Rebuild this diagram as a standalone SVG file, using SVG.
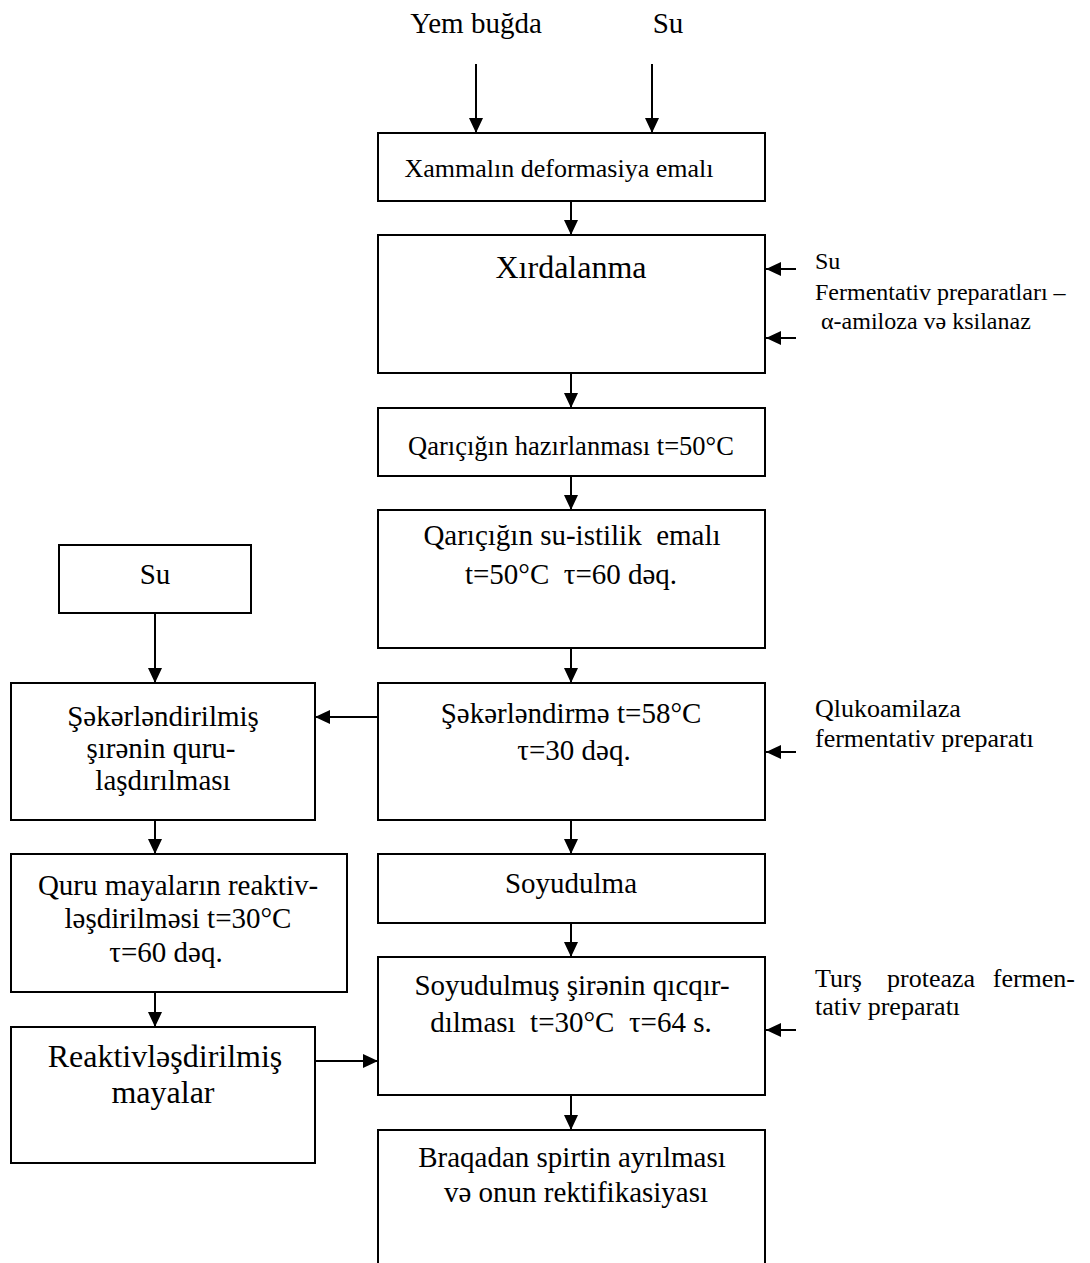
<svg xmlns="http://www.w3.org/2000/svg" width="1090" height="1263" viewBox="0 0 1090 1263">
<style>
  .box { fill: #fff; stroke: #000; stroke-width: 2; }
  .t { font-family: "Liberation Serif", "Times New Roman", serif; fill: #000; font-size: 29px; text-anchor: middle; }
  .lbl { font-family: "Liberation Serif", "Times New Roman", serif; fill: #000; font-size: 24px; }
  .conn { stroke: #000; stroke-width: 2; fill: none; marker-end: url(#ah); }
</style>
<defs>
  <marker id="ah" markerUnits="userSpaceOnUse" markerWidth="16" markerHeight="14" refX="15" refY="7" orient="auto">
    <path d="M0,0 L15,7 L0,14 z" fill="#000"/>
  </marker>
</defs>
<rect width="1090" height="1263" fill="#fff"/>

<g id="inputs">
  <text class="t" x="476" y="33">Yem buğda</text>
  <text class="t" x="668" y="33">Su</text>
</g>

<g id="n1"><rect class="box" x="378" y="133" width="387" height="68"/>
  <text class="t" x="559" y="177" style="font-size:26px">Xammalın deformasiya emalı</text></g>

<g id="n2"><rect class="box" x="378" y="235" width="387" height="138"/>
  <text class="t" x="571" y="278" style="font-size:32px">Xırdalanma</text></g>

<g id="n2-inputs">
  <text class="lbl" x="815" y="269">Su</text>
  <text class="lbl" x="815" y="300">Fermentativ preparatları –</text>
  <text class="lbl" x="815" y="329" xml:space="preserve"> α-amiloza və ksilanaz</text>
</g>

<g id="n3"><rect class="box" x="378" y="408" width="387" height="68"/>
  <text class="t" x="571" y="455" style="font-size:26.5px">Qarıçığın hazırlanması t=50°C</text></g>

<g id="n4"><rect class="box" x="378" y="510" width="387" height="138"/>
  <text class="t" x="572" y="545" xml:space="preserve">Qarıçığın su-istilik  emalı</text>
  <text class="t" x="571" y="584" xml:space="preserve">t=50°C  τ=60 dəq.</text></g>

<g id="n5"><rect class="box" x="378" y="683" width="387" height="137"/>
  <text class="t" x="571" y="723">Şəkərləndirmə t=58°C</text>
  <text class="t" x="574" y="760">τ=30 dəq.</text></g>

<g id="n5-input">
  <text class="lbl" x="815" y="717" style="font-size:26px">Qlukoamilaza</text>
  <text class="lbl" x="815" y="747" style="font-size:26px">fermentativ preparatı</text>
</g>

<g id="n6"><rect class="box" x="378" y="854" width="387" height="69"/>
  <text class="t" x="571" y="893">Soyudulma</text></g>

<g id="n7"><rect class="box" x="378" y="957" width="387" height="138"/>
  <text class="t" x="572" y="995">Soyudulmuş şirənin qıcqır-</text>
  <text class="t" x="571" y="1032" xml:space="preserve">dılması  t=30°C  τ=64 s.</text></g>

<g id="n7-input">
  <text class="lbl" y="987" style="font-size:26px"><tspan x="815">Turş</tspan><tspan x="887">proteaza</tspan><tspan x="1075" text-anchor="end">fermen-</tspan></text>
  <text class="lbl" x="815" y="1015" style="font-size:26px">tativ preparatı</text>
</g>

<g id="n8"><rect class="box" x="378" y="1130" width="387" height="145"/>
  <text class="t" x="572" y="1167">Braqadan spirtin ayrılması</text>
  <text class="t" x="576" y="1202">və onun rektifikasiyası</text></g>

<g id="L1"><rect class="box" x="59" y="545" width="192" height="68"/>
  <text class="t" x="155" y="584">Su</text></g>

<g id="L2"><rect class="box" x="11" y="683" width="304" height="137"/>
  <text class="t" x="163" y="726">Şəkərləndirilmiş</text>
  <text class="t" x="161" y="758">şırənin quru-</text>
  <text class="t" x="163" y="790">laşdırılması</text></g>

<g id="L3"><rect class="box" x="11" y="854" width="336" height="138"/>
  <text class="t" x="178" y="895">Quru mayaların reaktiv-</text>
  <text class="t" x="178" y="928">ləşdirilməsi t=30°C</text>
  <text class="t" x="166" y="962">τ=60 dəq.</text></g>

<g id="L4"><rect class="box" x="11" y="1027" width="304" height="136"/>
  <text class="t" x="165" y="1067" style="font-size:32px">Reaktivləşdirilmiş</text>
  <text class="t" x="163" y="1103" style="font-size:32px">mayalar</text></g>

<g id="connectors">
  <line class="conn" x1="476" y1="64" x2="476" y2="133"/>
  <line class="conn" x1="652" y1="64" x2="652" y2="133"/>
  <line class="conn" x1="571" y1="201" x2="571" y2="235"/>
  <line class="conn" x1="571" y1="373" x2="571" y2="408"/>
  <line class="conn" x1="571" y1="476" x2="571" y2="510"/>
  <line class="conn" x1="571" y1="648" x2="571" y2="683"/>
  <line class="conn" x1="571" y1="820" x2="571" y2="854"/>
  <line class="conn" x1="571" y1="923" x2="571" y2="957"/>
  <line class="conn" x1="571" y1="1095" x2="571" y2="1130"/>
  <line class="conn" x1="796" y1="269" x2="766" y2="269"/>
  <line class="conn" x1="796" y1="338" x2="766" y2="338"/>
  <line class="conn" x1="796" y1="752" x2="766" y2="752"/>
  <line class="conn" x1="796" y1="1030" x2="766" y2="1030"/>
  <line class="conn" x1="378" y1="717" x2="315" y2="717"/>
  <line class="conn" x1="155" y1="613" x2="155" y2="683"/>
  <line class="conn" x1="155" y1="820" x2="155" y2="854"/>
  <line class="conn" x1="155" y1="992" x2="155" y2="1027"/>
  <line class="conn" x1="315" y1="1061" x2="378" y2="1061"/>
</g>
</svg>
